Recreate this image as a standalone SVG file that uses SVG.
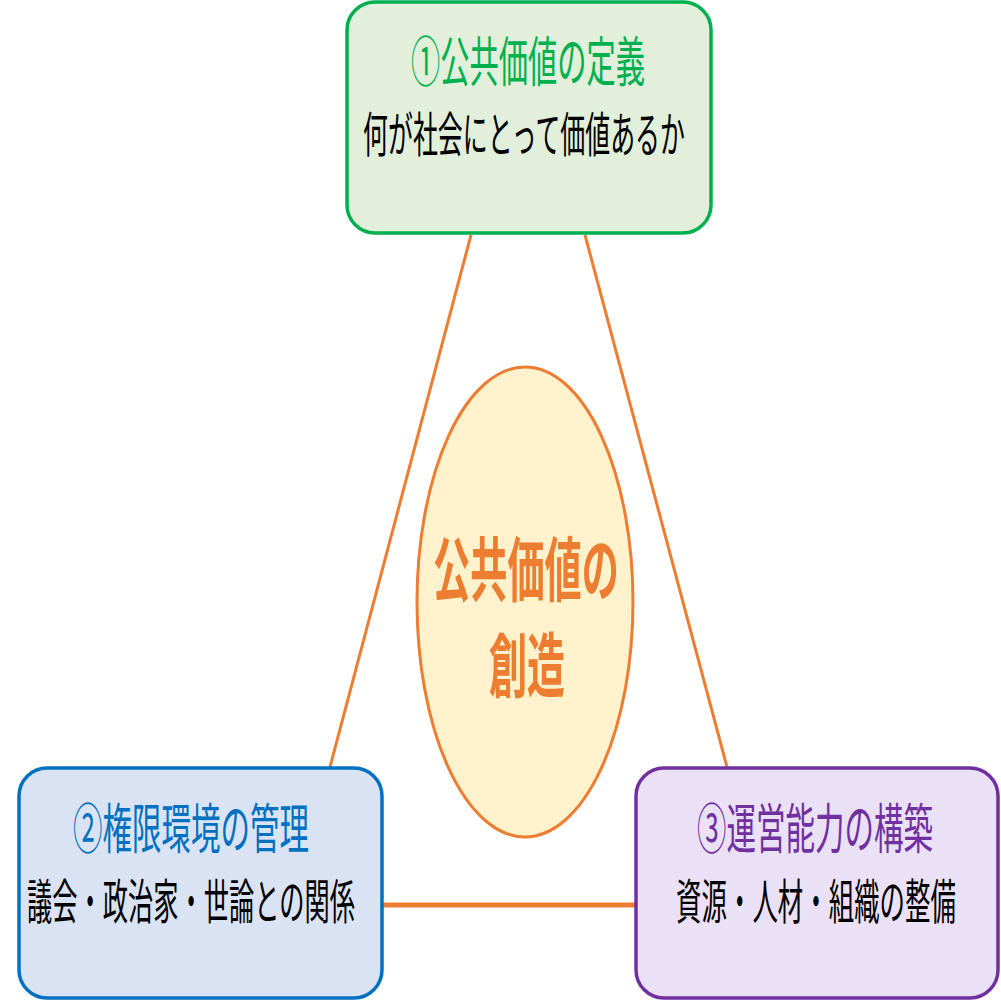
<svg xmlns="http://www.w3.org/2000/svg" width="1001" height="1001" viewBox="0 0 1001 1001">
<style>
.t{font-family:"Noto Sans CJK JP","Noto Sans CJK SC",sans-serif;text-anchor:middle}
.h{font-size:54px}
.s{font-size:48px;fill:#000}
.m{font-size:70px;font-weight:bold;fill:#ED7D31}
.c{stroke:#ED7D31;fill:none}
.box{stroke-width:3.5}
</style>
<rect width="1001" height="1001" fill="#fff"/>
<g id="connectors">
<line class="c" x1="471" y1="235" x2="330" y2="767" stroke-width="3"/>
<line class="c" x1="585" y1="235" x2="727" y2="767" stroke-width="3"/>
<line class="c" x1="383" y1="905" x2="636" y2="905" stroke-width="5"/>
</g>
<g id="node-center">
<ellipse cx="525" cy="602" rx="108" ry="235" fill="#FFF2CC" stroke="#ED7D31" stroke-width="3"/>
<text class="t m" transform="translate(526,596) scale(0.531,1)">公共価値の</text>
<text class="t m" transform="translate(527,692) scale(0.543,1)">創造</text>
</g>
<g id="node-1">
<rect class="box" x="347" y="2" width="364" height="231" rx="28" fill="#E2EFDA" stroke="#00B050"/>
<text class="t h" fill="#00B050" transform="translate(528,82) scale(0.542,1)">①公共価値の定義</text>
<text class="t s" transform="translate(524,152) scale(0.519,1)">何が社会にとって価値あるか</text>
</g>
<g id="node-2">
<rect class="box" x="19" y="768" width="363" height="230" rx="28" fill="#DAE3F3" stroke="#0070C0"/>
<text class="t h" fill="#0070C0" transform="translate(191,849) scale(0.546,1)">②権限環境の管理</text>
<text class="t s" transform="translate(191,919) scale(0.526,1)">議会・政治家・世論との関係</text>
</g>
<g id="node-3">
<rect class="box" x="636" y="768" width="362" height="230" rx="28" fill="#EBE1F6" stroke="#7030A0"/>
<text class="t h" fill="#7030A0" transform="translate(815,849) scale(0.546,1)">③運営能力の構築</text>
<text class="t s" transform="translate(816,919) scale(0.53,1)">資源・人材・組織の整備</text>
</g>
</svg>
